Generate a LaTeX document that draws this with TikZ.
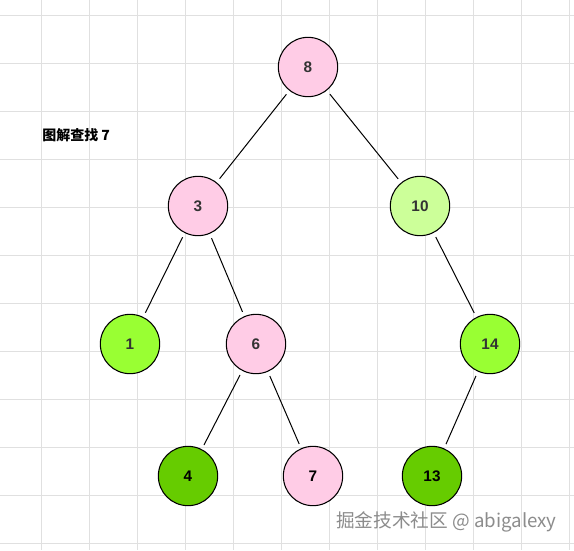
\documentclass[tikz,border=0pt]{standalone}
\usepackage{fontspec}
\setmainfont{Liberation Sans}
\newfontfamily\cjk{Noto Sans CJK SC}
\begin{document}
\begin{tikzpicture}[x=0.75pt,y=-0.75pt,
  gridline/.style={draw=black!12,line width=0.6pt},
  tnode/.style={circle,draw=black,line width=0.8pt,minimum size=44.5pt,inner sep=0pt,font=\bfseries\fontsize{11.5}{13}\selectfont,text=black!80},
  pinkn/.style={tnode,fill=pink1},
  lgreen/.style={tnode,fill=green1},
  mgreen/.style={tnode,fill=green2},
  dgreen/.style={tnode,fill=green3,text=black},
  edge/.style={draw=black,line width=0.75pt,shorten >=3.5pt,shorten <=3.5pt}]
\definecolor{pink1}{HTML}{FFCCE6}
\definecolor{green1}{HTML}{CCFF99}
\definecolor{green2}{HTML}{99FF33}
\definecolor{green3}{HTML}{66CC00}
\useasboundingbox (0,0) rectangle (574,550);
\fill[white] (0,0) rectangle (574,550);
\foreach \k in {0,...,11} {
  \draw[gridline] (41+48*\k,0) -- (41+48*\k,550);
  \draw[gridline] (0,15+48*\k) -- (574,15+48*\k);
}
\node[pinkn] (n8) at (308,67) {8};
\node[pinkn] (n3) at (198,206) {3};
\node[lgreen] (n10) at (420,206) {10};
\node[mgreen] (n1) at (130,344) {1};
\node[pinkn] (n6) at (256,344) {6};
\node[mgreen] (n14) at (490,344) {14};
\node[dgreen] (n4) at (188,476) {4};
\node[pinkn,text=black] (n7) at (313,476) {7};
\node[dgreen] (n13) at (432,476) {13};
\draw[edge] (n8) -- (n3);
\draw[edge] (n8) -- (n10);
\draw[edge] (n3) -- (n1);
\draw[edge] (n3) -- (n6);
\draw[edge] (n10) -- (n14);
\draw[edge] (n6) -- (n4);
\draw[edge] (n6) -- (n7);
\draw[edge] (n14) -- (n13);
\node[anchor=west,inner sep=0pt,font=\cjk\bfseries\fontsize{10.5}{12}\selectfont] (title) at (42,135) {图解查找 7};
\node[anchor=west,inner sep=0pt,text=black!45,font=\cjk\fontsize{14}{16}\selectfont] (wm) at (336,522) {掘金技术社区 @ abigalexy};
\end{tikzpicture}
\end{document}
